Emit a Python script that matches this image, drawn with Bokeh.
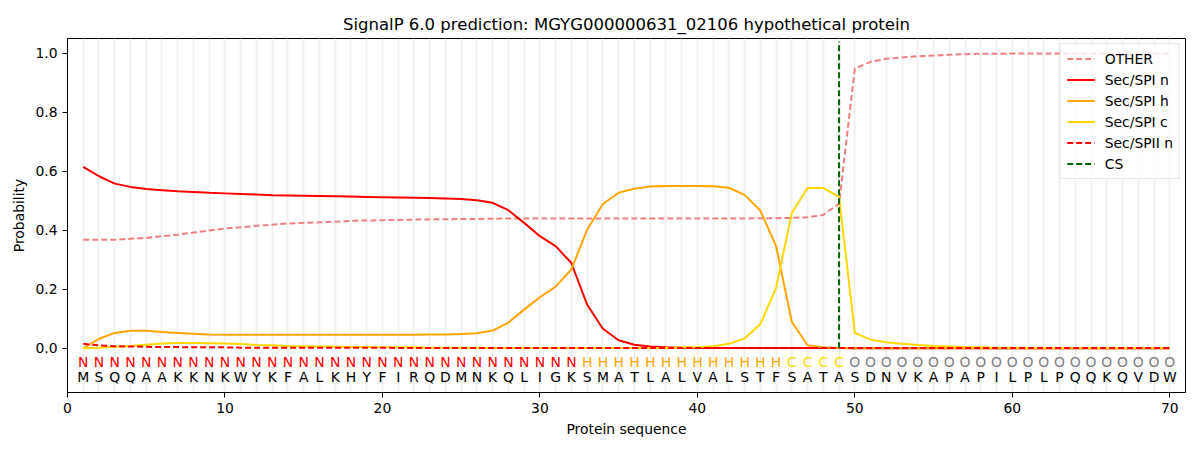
from bokeh.plotting import figure
from bokeh.models import (ColumnDataSource, FixedTicker, SingleIntervalTicker,
                          NumeralTickFormatter, Range1d, Legend, LegendItem)
from bokeh.core.properties import value
from bokeh.embed import file_html
from bokeh.resources import INLINE

title = "SignalP 6.0 prediction: MGYG000000631_02106 hypothetical protein"
sequence = list("MSQQAAKKNKWYKFALKHYFIRQDMNKQLIGKSMATLALVALSTFSATASDNVKAPAPILPLPQQKQVDW")
labels = list("N" * 32 + "H" * 13 + "C" * 4 + "O" * 21)
positions = list(range(1, 71))
cs_position = 49

other = [0.368, 0.368, 0.368, 0.371, 0.374, 0.380, 0.385, 0.392, 0.399, 0.406,
         0.410, 0.415, 0.419, 0.423, 0.425, 0.427, 0.429, 0.432, 0.433, 0.434,
         0.435, 0.436, 0.437, 0.437, 0.438, 0.438, 0.439, 0.440, 0.440, 0.440,
         0.440, 0.440, 0.440, 0.440, 0.440, 0.440, 0.440, 0.440, 0.440, 0.440,
         0.440, 0.440, 0.440, 0.441, 0.441, 0.442, 0.444, 0.452, 0.490, 0.948,
         0.971, 0.981, 0.986, 0.990, 0.992, 0.995, 0.997, 0.998, 0.998, 0.999,
         0.999, 0.999, 0.999, 0.999, 0.999, 0.999, 0.999, 0.999, 0.999, 0.999]
sec_spi_n = [0.615, 0.583, 0.558, 0.547, 0.540, 0.536, 0.532, 0.530, 0.527, 0.525,
             0.523, 0.521, 0.519, 0.518, 0.517, 0.516, 0.515, 0.514, 0.513, 0.512,
             0.511, 0.510, 0.509, 0.508, 0.506, 0.502, 0.493, 0.468, 0.425, 0.380,
             0.346, 0.289, 0.148, 0.066, 0.027, 0.012, 0.006, 0.003, 0.002, 0.001,
             0.001, 0.001, 0.001, 0.001, 0.001, 0.001, 0.001, 0.001, 0.001, 0.000,
             0.000, 0.000, 0.000, 0.000, 0.000, 0.000, 0.000, 0.000, 0.000, 0.000,
             0.000, 0.000, 0.000, 0.000, 0.000, 0.000, 0.000, 0.000, 0.000, 0.000]
sec_spi_h = [0.000, 0.032, 0.052, 0.059, 0.059, 0.055, 0.052, 0.049, 0.047, 0.046,
             0.046, 0.046, 0.046, 0.046, 0.046, 0.046, 0.046, 0.046, 0.046, 0.046,
             0.046, 0.046, 0.047, 0.047, 0.048, 0.051, 0.060, 0.087, 0.131, 0.173,
             0.209, 0.267, 0.402, 0.489, 0.527, 0.541, 0.548, 0.550, 0.550, 0.550,
             0.549, 0.544, 0.520, 0.467, 0.346, 0.089, 0.010, 0.003, 0.001, 0.000,
             0.000, 0.000, 0.000, 0.000, 0.000, 0.000, 0.000, 0.000, 0.000, 0.000,
             0.000, 0.000, 0.000, 0.000, 0.000, 0.000, 0.000, 0.000, 0.000, 0.000]
sec_spi_c = [0.000, 0.002, 0.005, 0.008, 0.012, 0.016, 0.018, 0.018, 0.017, 0.016,
             0.014, 0.011, 0.010, 0.008, 0.007, 0.006, 0.005, 0.004, 0.004, 0.003,
             0.003, 0.003, 0.002, 0.002, 0.002, 0.002, 0.001, 0.001, 0.001, 0.001,
             0.001, 0.001, 0.001, 0.001, 0.001, 0.001, 0.001, 0.001, 0.003, 0.003,
             0.007, 0.015, 0.033, 0.082, 0.205, 0.459, 0.543, 0.543, 0.513, 0.052,
             0.029, 0.020, 0.015, 0.011, 0.008, 0.006, 0.004, 0.003, 0.002, 0.002,
             0.001, 0.001, 0.001, 0.001, 0.001, 0.001, 0.001, 0.001, 0.001, 0.001]
sec_spii_n = [0.015, 0.010, 0.007, 0.006, 0.005, 0.004, 0.004, 0.003, 0.003, 0.003,
              0.002, 0.002, 0.002, 0.002, 0.002, 0.002, 0.002, 0.002, 0.002, 0.002,
              0.001, 0.001, 0.001, 0.001, 0.001, 0.001, 0.001, 0.001, 0.001, 0.001,
              0.001, 0.001, 0.001, 0.001, 0.001, 0.001, 0.001, 0.001, 0.001, 0.001,
              0.001, 0.001, 0.001, 0.001, 0.001, 0.001, 0.001, 0.001, 0.001, 0.001,
              0.001, 0.001, 0.001, 0.001, 0.001, 0.001, 0.001, 0.001, 0.001, 0.001,
              0.001, 0.001, 0.001, 0.001, 0.001, 0.001, 0.001, 0.001, 0.001, 0.001]

label_colors = {"N": "#ff0000", "H": "#ffa500", "C": "#ffd700", "O": "#808080"}

FONT = "DejaVu Sans"
FS = "13.9px"

p = figure(width=1192, height=442, output_backend="svg", toolbar_location=None,
           x_range=Range1d(0, 71), y_range=Range1d(-0.15, 1.05), title=title)
p.min_border_left = 67
p.min_border_right = 7
p.min_border_top = 38
p.min_border_bottom = 50
p.background_fill_color = "white"
p.border_fill_color = "white"
p.outline_line_color = "black"
p.outline_line_width = 1

p.title.align = "center"
p.title.text_font = FONT
p.title.text_font_size = "16.5px"
p.title.text_font_style = "normal"
p.title.text_color = "black"

p.xgrid.ticker = SingleIntervalTicker(interval=1)
p.xgrid.grid_line_color = "#f0f0f0"
p.xgrid.grid_line_width = 2
p.ygrid.visible = False

p.xaxis.ticker = FixedTicker(ticks=[0, 10, 20, 30, 40, 50, 60, 70])
p.yaxis.ticker = FixedTicker(ticks=[0.0, 0.2, 0.4, 0.6, 0.8, 1.0])
p.yaxis.formatter = NumeralTickFormatter(format="0.0")
for ax in (p.xaxis, p.yaxis):
    ax.major_label_text_font = FONT
    ax.major_label_text_font_size = FS
    ax.major_label_text_color = "black"
    ax.axis_label_text_font = FONT
    ax.axis_label_text_font_size = FS
    ax.axis_label_text_font_style = "normal"
    ax.axis_label_text_color = "black"
    ax.major_tick_in = 0
    ax.major_tick_out = 5
    ax.minor_tick_line_color = None
    ax.axis_line_color = "black"
    ax.major_tick_line_color = "black"
p.xaxis.axis_label = "Protein sequence"
p.yaxis.axis_label = "Probability"

src = ColumnDataSource(dict(x=positions, other=other, n=sec_spi_n, h=sec_spi_h,
                            c=sec_spi_c, n2=sec_spii_n))
r_other = p.line("x", "other", source=src, line_color="#f08080", line_width=2, line_dash="6 3")
r_n = p.line("x", "n", source=src, line_color="#ff0000", line_width=2)
r_h = p.line("x", "h", source=src, line_color="#ffa500", line_width=2)
r_c = p.line("x", "c", source=src, line_color="#ffd700", line_width=2)
r_n2 = p.line("x", "n2", source=src, line_color="#ff0000", line_width=2, line_dash="6 3")
r_cs = p.segment(x0=[cs_position], y0=[0], x1=[cs_position], y1=[1.04],
                 line_color="#006400", line_width=2, line_dash="6 3")

txt = ColumnDataSource(dict(x=positions, lab=labels, res=sequence,
                            col=[label_colors[l] for l in labels]))
p.text(x="x", y=-0.047, text="lab", source=txt, text_color="col",
       text_align="center", text_baseline="middle",
       text_font=value(FONT), text_font_size=FS)
p.text(x="x", y=-0.098, text="res", source=txt, text_color="black",
       text_align="center", text_baseline="middle",
       text_font=value(FONT), text_font_size=FS)

legend = Legend(items=[
    LegendItem(label="OTHER", renderers=[r_other]),
    LegendItem(label="Sec/SPI n", renderers=[r_n]),
    LegendItem(label="Sec/SPI h", renderers=[r_h]),
    LegendItem(label="Sec/SPI c", renderers=[r_c]),
    LegendItem(label="Sec/SPII n", renderers=[r_n2]),
    LegendItem(label="CS", renderers=[r_cs]),
], location="top_right")
legend.label_text_font = FONT
legend.label_text_font_size = FS
legend.label_text_color = "black"
legend.glyph_width = 28
legend.glyph_height = 17
legend.label_height = 17
legend.spacing = 4
legend.padding = 6
legend.margin = 5
legend.label_standoff = 10
legend.border_line_color = "#cccccc"
legend.border_line_width = 1
legend.background_fill_alpha = 0.8
p.add_layout(legend)

open("out.html", "w").write(file_html(p, INLINE))
